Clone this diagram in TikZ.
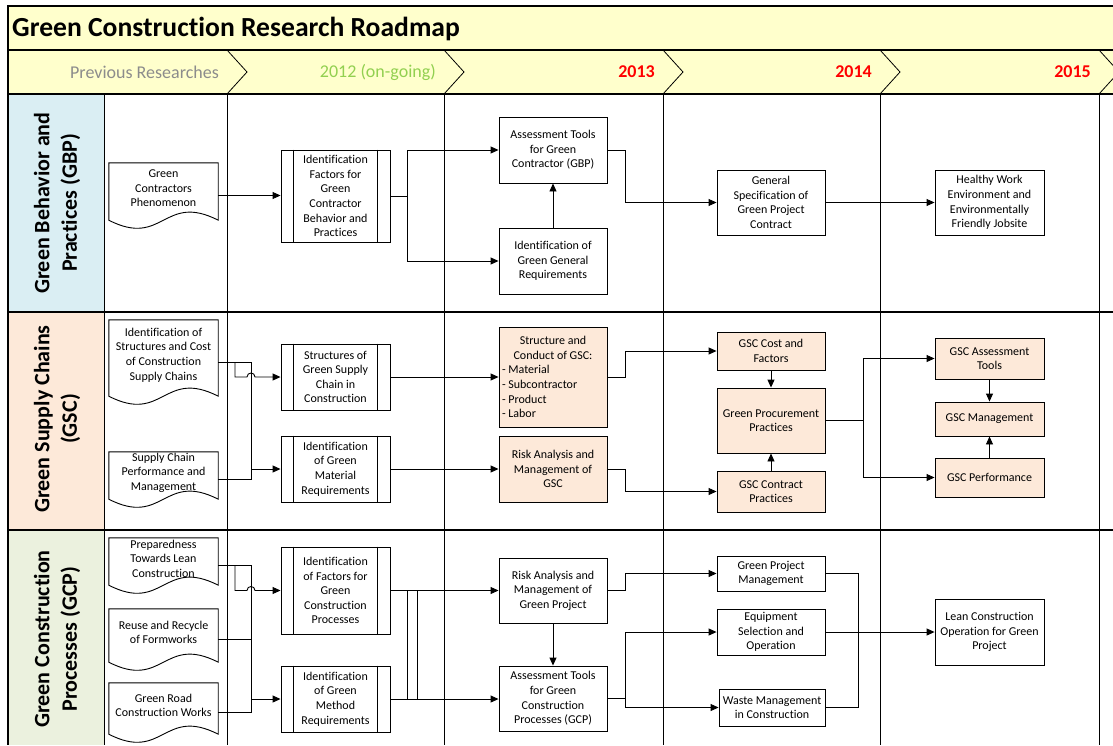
\documentclass[tikz,border=0pt]{standalone}
\usepackage{fontspec}
\setmainfont{Carlito}[Ligatures=NoCommon]
\usetikzlibrary{arrows.meta,calc}
\definecolor{hdrY}{HTML}{FFFFCC}
\definecolor{gbpC}{HTML}{DAEEF3}
\definecolor{gscC}{HTML}{FDE9D9}
\definecolor{gcpC}{HTML}{EBF1DE}
\definecolor{prevC}{HTML}{8C8C8C}
\definecolor{ongoC}{HTML}{92D050}
\newcommand\bxfont{\fontsize{12}{14.6}\selectfont}
\newcommand\hdrfont{\fontsize{18}{22}\selectfont}
\newcommand\ttlfont{\fontsize{27.6}{32}\selectfont\bfseries}
\newcommand\lanefont{\fontsize{22}{27.5}\selectfont\bfseries}
\tikzset{
  bx/.style={draw, line width=0.9pt, fill=white, inner sep=0pt, align=center, font=\bxfont},
  pbx/.style={bx, fill=gscC},
  prebx/.style={bx},
  docbx/.style={inner sep=0pt, font=\bxfont},
  conn/.style={line width=0.9pt},
  arr/.style={conn, -{Triangle[length=8pt,width=7pt]}},
  docline/.style={line width=0.9pt},
  grid/.style={line width=0.8pt},
  lanesep/.style={line width=1.8pt},
  hdrtxt/.style={anchor=east, inner sep=0pt, font=\hdrfont},
}
\newcommand\boxat[7]{\node[#1, minimum width={#5-#3}, minimum height={#6-#4}] (#2) at ({(#3+#5)/2},{(#4+#6)/2}) {#7};}
\newcommand\prebar[1]{\draw[line width=0.9pt] ($(#1.north west)+(13,0)$) -- ($(#1.south west)+(13,0)$) ($(#1.north east)+(-13,0)$) -- ($(#1.south east)+(-13,0)$);}
\newcommand\docat[6]{\node[docbx, minimum width={#4-#2}] (#1) at ({(#2+#4)/2},{(#3+#5)/2}) {\parbox[c][\dimexpr#5pt-#3pt\relax][c]{107pt}{\centering\bxfont #6\par\vspace*{14pt}}};
\draw[docline] (#1.north west) -- (#1.north east) -- ([yshift=8pt]#1.south east) .. controls ([yshift=36pt]#1.south) and ([yshift=-20pt]#1.south) .. ([yshift=8pt]#1.south west) -- cycle;}
\newcommand\hopto[3]{($(#1 -| #2)+(-4,0)$) .. controls +(0,-5.3) and +(0,-5.3) .. ($(#1 -| #2)+(4,0)$) -- (#3)}
\begin{document}
\begin{tikzpicture}[x=1pt,y=-1pt]
\path[use as bounding box] (0,0) rectangle (1113,745);
\clip (0,0) rectangle (1113,745);
\fill[white] (0,0) rectangle (1113,745);
% header bands
\fill[hdrY] (8,6) rectangle (1113,94);
\fill[gbpC] (8,94) rectangle (104,312);
\fill[gscC] (8,312) rectangle (104,530);
\fill[gcpC] (8,530) rectangle (104,745);
\draw[line width=1.4pt] (1113,6) -- (8,6) -- (8,745);
\draw[line width=1.2pt] (8,50) -- (1113,50);
\draw[lanesep] (8,94) -- (1113,94);
\draw[lanesep] (8,312) -- (1113,312);
\draw[lanesep] (8,530) -- (1113,530);
\foreach \cx in {227,444,663,880,1099} {
  \draw[grid] (\cx,50) -- (\cx+20,72) -- (\cx,94);
  \draw[grid] (\cx,94) -- (\cx,745);
}
\draw[grid] (104,94) -- (104,745);
% titles
\node[anchor=west, inner sep=0pt, font=\ttlfont] (title) at (12,29) {Green Construction Research Roadmap};
\node[hdrtxt, text=prevC] (hprev) at (219,72) {Previous Researches};
\node[hdrtxt, text=ongoC] (h2012) at (436,72) {2012 (on-going)};
\node[hdrtxt, text=red, font=\hdrfont\bfseries] (h2013) at (655,72) {2013};
\node[hdrtxt, text=red, font=\hdrfont\bfseries] (h2014) at (872,72) {2014};
\node[hdrtxt, text=red, font=\hdrfont\bfseries] (h2015) at (1091,72) {2015};
\node[rotate=90, align=center, font=\lanefont] (lgbp) at (57,203) {Green Behavior and\\Practices (GBP)};
\node[rotate=90, align=center, font=\lanefont] (lgsc) at (57,419) {Green Supply Chains\\(GSC)};
\node[rotate=90, align=center, font=\lanefont] (lgcp) at (57,639) {Green Construction\\Processes (GCP)};
% junction x positions
\coordinate (xa) at (235,0);
\coordinate (xb) at (251,0);
\coordinate (xc) at (407,0);
\coordinate (xd) at (417,0);
\coordinate (jg) at (407,0);
\coordinate (js) at (863,0);
\coordinate (jc) at (625,0);
\coordinate (jw) at (858,0);
% ---------- Lane 1: GBP
\docat{gdoc}{109}{163}{218}{228}{Green\\Contractors\\Phenomenon}
\boxat{prebx}{gpre}{281}{150}{390}{242}{Identification\\Factors for\\Green\\Contractor\\Behavior and\\Practices}
\prebar{gpre}
\boxat{bx}{gat}{499}{117}{607}{183}{Assessment Tools\\for Green\\Contractor (GBP)}
\boxat{bx}{gid}{499}{228}{607}{294}{Identification of\\Green General\\Requirements}
\boxat{bx}{gspec}{717}{170}{825}{235}{General\\Specification of\\Green Project\\Contract}
\boxat{bx}{ghw}{935}{170}{1044}{235}{Healthy Work\\Environment and\\Environmentally\\Friendly Jobsite}
\draw[arr] (gdoc.east) -- (gdoc.east -| gpre.west);
\draw[arr] (gpre.east) -- (gpre.east -| jg) |- (gat.west);
\draw[arr] (gpre.east -| jg) |- (gid.west);
\draw[arr] (gid.north) -- (gat.south);
\draw[arr] (gat.east) -- ++(18,0) |- (gspec.west);
\draw[arr] (gspec.east) -- (ghw.west);
% ---------- Lane 2: GSC
\docat{sdoc1}{109}{320}{218}{404}{Identification of\\Structures and Cost\\of Construction\\Supply Chains}
\docat{sdoc2}{109}{452}{218}{507}{Supply Chain\\Performance and\\Management}
\boxat{prebx}{spre1}{281}{344}{390}{410}{Structures of\\Green Supply\\Chain in\\Construction}
\prebar{spre1}
\boxat{prebx}{spre2}{281}{436}{390}{502}{Identification\\of Green\\Material\\Requirements}
\prebar{spre2}
\boxat{pbx}{ssc}{499}{327}{607}{427}{\parbox{102pt}{\bxfont\centering Structure and\\Conduct of GSC:\par\raggedright - Material\\- Subcontractor\\- Product\\- Labor}}
\boxat{pbx}{srisk}{499}{436}{607}{502}{Risk Analysis and\\Management of\\GSC}
\boxat{pbx}{scost}{717}{332}{825}{370}{GSC Cost and\\Factors}
\boxat{pbx}{sgpp}{717}{388}{825}{453}{Green Procurement\\Practices}
\boxat{pbx}{scontr}{717}{471}{825}{512}{GSC Contract\\Practices}
\boxat{pbx}{sast}{935}{338}{1044}{379}{GSC Assessment\\Tools}
\boxat{pbx}{smgmt}{935}{402}{1044}{436}{GSC Management}
\boxat{pbx}{sperf}{935}{458}{1044}{497}{GSC Performance}
\draw[conn] (sdoc1.east) -- (sdoc1.east -| xb) -- (sdoc2.east -| xb) -- (sdoc2.east);
\draw[arr] (spre2.west -| xb) -- (spre2.west);
\draw[arr] (sdoc1.east -| xa) -- (spre1.west -| xa) -- \hopto{spre1.west}{xb}{spre1.west};
\draw[arr] (spre1.east) -- (spre1.east -| ssc.west);
\draw[arr] (spre2.east) -- (spre2.east -| srisk.west);
\draw[arr] (ssc.east) -- ++(18,0) |- (scost.west);
\draw[arr] (srisk.east) -- ++(18,0) |- (scontr.west);
\draw[arr] (scost.south) -- (sgpp.north);
\draw[arr] (scontr.north) -- (sgpp.south);
\draw[conn, line width=1.6pt] (sgpp.east) -- (sgpp.east -| js);
\draw[arr] (sgpp.east -| js) |- (sast.west);
\draw[arr] (sgpp.east -| js) |- (sperf.west);
\draw[arr] (sast.south) -- (smgmt.north);
\draw[arr] (sperf.north) -- (smgmt.south);
% ---------- Lane 3: GCP
\docat{cdoc1}{109}{538}{218}{593}{Preparedness\\Towards Lean\\Construction}
\docat{cdoc2}{109}{609}{218}{670}{Reuse and Recycle\\of Formworks}
\docat{cdoc3}{109}{683}{218}{742}{Green Road\\Construction Works}
\boxat{prebx}{cpre1}{281}{547}{390}{634}{Identification\\of Factors for\\Green\\Construction\\Processes}
\prebar{cpre1}
\boxat{prebx}{cpre2}{281}{666}{390}{732}{Identification\\of Green\\Method\\Requirements}
\prebar{cpre2}
\boxat{bx}{crisk}{499}{558}{607}{623}{Risk Analysis and\\Management of\\Green Project}
\boxat{bx}{cat}{499}{666}{607}{731}{Assessment Tools\\for Green\\Construction\\Processes (GCP)}
\boxat{bx}{cgpm}{717}{556}{825}{591}{Green Project\\Management}
\boxat{bx}{ceq}{717}{609}{825}{655}{Equipment\\Selection and\\Operation}
\boxat{bx}{cwaste}{719}{689}{825}{726}{Waste Management\\in Construction}
\boxat{bx}{clean}{935}{599}{1044}{665}{Lean Construction\\Operation for Green\\Project}
\draw[conn] (cdoc1.east) -- (cdoc1.east -| xb) -- (cdoc3.east -| xb) -- (cdoc3.east);
\draw[conn] (cdoc2.east) -- (cdoc2.east -| xb);
\draw[arr] (cpre2.west -| xb) -- (cpre2.west);
\draw[arr] (cdoc1.east -| xa) -- (cpre1.west -| xa) -- \hopto{cpre1.west}{xb}{cpre1.west};
\draw[arr] (cpre1.east) -- (cpre1.east -| crisk.west);
\draw[arr] (cpre2.east) -- (cpre2.east -| cat.west);
\draw[conn] (cpre1.east -| xc) -- (cpre2.east -| xc);
\draw[conn] (cpre1.east -| xd) -- (cpre2.east -| xd);
\draw[arr] (crisk.south) -- (cat.north);
\draw[arr] (crisk.east) -- ++(18,0) |- (cgpm.west);
\draw[conn, line width=1.6pt] (cat.east) -- (cat.east -| jc);
\draw[arr] (cat.east -| jc) |- (ceq.west);
\draw[arr] (cat.east -| jc) |- (cwaste.west);
\draw[arr] (ceq.east) -- (ceq.east -| clean.west);
\draw[conn] (cgpm.east) -- (cgpm.east -| jw) -- (cwaste.east -| jw) -- (cwaste.east);
\end{tikzpicture}
\end{document}
